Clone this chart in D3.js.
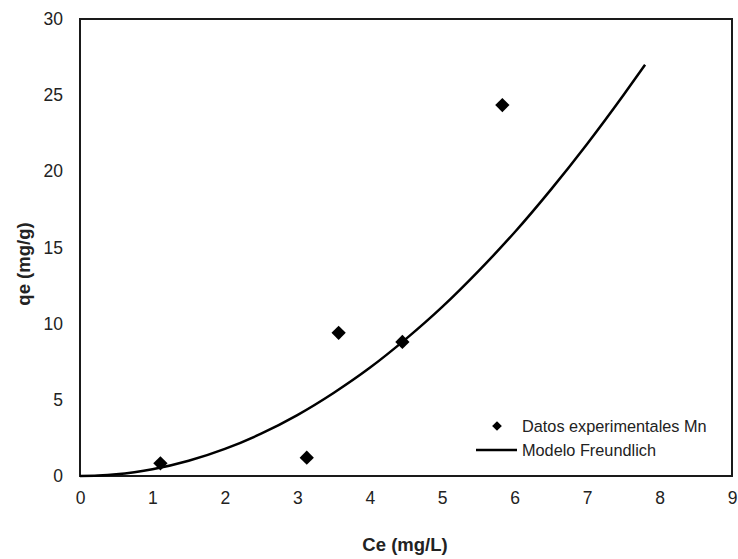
<!DOCTYPE html>
<html>
<head>
<meta charset="utf-8">
<script src="https://cdn.jsdelivr.net/npm/d3@7"></script>
<style>
  body { margin: 0; background: #fff; }
  svg { display: block; font-family: "Liberation Sans", Arial, sans-serif; }
</style>
</head>
<body>
<svg id="chart" width="738" height="559"></svg>
<script>
// Experimental data (Mn)
const expCe = [1.11, 3.13, 3.57, 4.45, 5.83];
const expQe = [0.83, 1.2, 9.4, 8.8, 24.35];

// Freundlich model curve
const modelCe = [0, 0.25, 0.5, 0.75, 1, 1.5, 2, 2.5, 3, 3.5, 4, 4.5, 5, 5.5, 6, 6.5, 7, 7.5, 7.8];
const modelQe = [0, 0.03, 0.11, 0.25, 0.44, 1.0, 1.78, 2.78, 4.0, 5.45, 7.1, 9.0, 11.1, 13.45, 16.0, 18.8, 21.8, 25.0, 27.0];

const xTicks = [0, 1, 2, 3, 4, 5, 6, 7, 8, 9];
const yTicks = [0, 5, 10, 15, 20, 25, 30];

const legendLabels = ["Datos experimentales Mn", "Modelo Freundlich"];
const xTitle = "Ce (mg/L)";
const yTitle = "qe (mg/g)";

const svg = d3.select("#chart");
const m = { left: 80, top: 19, right: 738 - 732, bottom: 559 - 476 };
const W = 738 - m.left - m.right;
const H = 559 - m.top - m.bottom;

const x = d3.scaleLinear().domain([0, 9]).range([m.left, m.left + W]);
const y = d3.scaleLinear().domain([0, 30]).range([m.top + H, m.top]);

// frame
svg.append("rect")
  .attr("x", x(0)).attr("y", y(30))
  .attr("width", x(9) - x(0)).attr("height", y(0) - y(30))
  .attr("fill", "none").attr("stroke", "#1a1a1a").attr("stroke-width", 2);

// axes (labels only)
const xAxis = d3.axisBottom(x).tickValues(xTicks).tickSize(0).tickPadding(16).tickFormat(d3.format("d"));
const gx = svg.append("g").attr("transform", `translate(0,${y(0)})`).call(xAxis);
gx.select(".domain").remove();
gx.selectAll("text").attr("font-size", 17.5).attr("fill", "#222").attr("font-family", "Liberation Sans, Arial, sans-serif");

const yAxis = d3.axisLeft(y).tickValues(yTicks).tickSize(0).tickPadding(17).tickFormat(d3.format("d"));
const gy = svg.append("g").attr("transform", `translate(${x(0)},0)`).call(yAxis);
gy.select(".domain").remove();
gy.selectAll("text").attr("font-size", 17.5).attr("fill", "#222").attr("font-family", "Liberation Sans, Arial, sans-serif");

// model curve
const line = d3.line().x(d => x(d[0])).y(d => y(d[1])).curve(d3.curveMonotoneX);
svg.append("path")
  .datum(modelCe.map((c, i) => [c, modelQe[i]]))
  .attr("d", line)
  .attr("fill", "none").attr("stroke", "#000").attr("stroke-width", 2.5);

// experimental points
const diamond = d3.symbol().type(d3.symbolDiamond2).size(130);
svg.append("g").selectAll("path")
  .data(expCe.map((c, i) => [c, expQe[i]]))
  .join("path")
  .attr("d", diamond)
  .attr("transform", d => `translate(${x(d[0])},${y(d[1])})`)
  .attr("fill", "#000");

// legend
const lg = svg.append("g");
lg.append("path").attr("d", d3.symbol().type(d3.symbolDiamond2).size(60))
  .attr("transform", "translate(497,426)").attr("fill", "#000");
lg.append("text").attr("x", 522).attr("y", 426).attr("dy", "0.35em")
  .attr("font-size", 16.3).attr("fill", "#222").text(legendLabels[0]);
lg.append("line").attr("x1", 476).attr("x2", 517).attr("y1", 450).attr("y2", 450)
  .attr("stroke", "#000").attr("stroke-width", 2.5);
lg.append("text").attr("x", 522).attr("y", 450).attr("dy", "0.35em")
  .attr("font-size", 16.3).attr("fill", "#222").text(legendLabels[1]);

// axis titles
svg.append("text").attr("x", 405).attr("y", 545).attr("dy", "0.35em")
  .attr("text-anchor", "middle").attr("font-weight", "bold").attr("font-size", 18.5)
  .attr("fill", "#222").text(xTitle);
svg.append("text").attr("transform", "translate(24,264) rotate(-90)").attr("dy", "0.35em")
  .attr("text-anchor", "middle").attr("font-weight", "bold").attr("font-size", 18.5)
  .attr("fill", "#222").text(yTitle);
</script>
</body>
</html>
